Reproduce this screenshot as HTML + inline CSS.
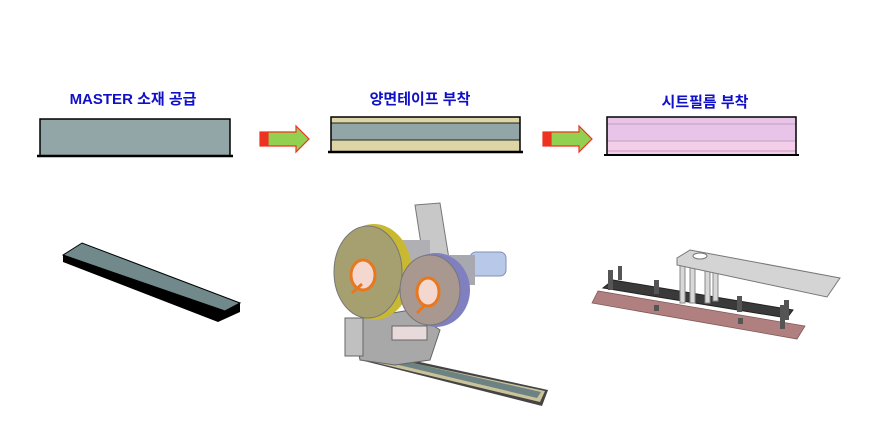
<!DOCTYPE html>
<html><head><meta charset="utf-8">
<style>
html,body{margin:0;padding:0;background:#fff;}
svg{display:block;}
text{font-family:"Liberation Sans","Noto Sans CJK KR",sans-serif;font-weight:bold;fill:#1010c8;}
</style></head><body>
<svg width="879" height="446" viewBox="0 0 879 446" xmlns="http://www.w3.org/2000/svg">
<rect width="879" height="446" fill="#fff"/>
<text x="133" y="104" font-size="15" text-anchor="middle">MASTER 소재 공급</text>
<text x="420" y="104" font-size="15" text-anchor="middle">양면테이프 부착</text>
<text x="705" y="107" font-size="15" text-anchor="middle">시트필름 부착</text>

<rect x="40" y="119" width="190" height="37" fill="#92a6a7" stroke="#000" stroke-width="1.5"/>
<line x1="37" y1="156" x2="233" y2="156" stroke="#000" stroke-width="2.5"/>

<rect x="331" y="117" width="189" height="6" fill="#ddd5a5"/>
<rect x="331" y="123" width="189" height="17" fill="#92a6a7"/>
<rect x="331" y="140" width="189" height="11" fill="#ddd5a5"/>
<line x1="331" y1="123" x2="520" y2="123" stroke="#222" stroke-width="1"/>
<line x1="331" y1="140" x2="520" y2="140" stroke="#222" stroke-width="1"/>
<rect x="331" y="117" width="189" height="35" fill="none" stroke="#000" stroke-width="1.5"/>
<line x1="328" y1="152" x2="523" y2="152" stroke="#000" stroke-width="2.5"/>

<rect x="607" y="117" width="189" height="38" fill="#e8c4e8"/>
<rect x="607" y="141" width="189" height="14" fill="#f4cde8"/>
<line x1="607" y1="124" x2="796" y2="124" stroke="#c0a0c0" stroke-width="1"/>
<line x1="607" y1="141" x2="796" y2="141" stroke="#c0a0c0" stroke-width="1"/>
<line x1="607" y1="151" x2="796" y2="151" stroke="#c0a0c0" stroke-width="1"/>
<rect x="607" y="117" width="189" height="38" fill="none" stroke="#000" stroke-width="1.5"/>
<line x1="604" y1="155" x2="799" y2="155" stroke="#000" stroke-width="2"/>

<g id="arr" stroke="#ee3322" stroke-width="1.2">
<rect x="260" y="132" width="3" height="14" fill="#ee3322"/>
<rect x="264" y="132" width="3" height="14" fill="#ee3322"/>
<polygon points="268,132 296,132 296,126 309,139 296,152 296,146 268,146" fill="#92d050"/>
</g>
<use href="#arr" x="283" y="0"/>

<polygon points="63,255 63,262 218,322 240,312 240,303 225,311" fill="#000"/>
<polygon points="63,255 82,243 240,303 225,311" fill="#71898a" stroke="#000" stroke-width="1"/>

<polygon points="360,360 374,352 548,390 542,406" fill="#444"/>
<polygon points="364,360 375,355 545,391 540,402" fill="#c9c29a"/>
<polygon points="378,360 386,357 541,392 537,398" fill="#6d8282"/>
<polygon points="415,205 440,203 450,265 425,270" fill="#c8c8c8" stroke="#777"/>
<rect x="470" y="252" width="36" height="24" rx="6" fill="#b8c8e8" stroke="#8090b0"/>
<rect x="445" y="255" width="30" height="30" fill="#a8a8b0"/>
<rect x="395" y="240" width="35" height="40" fill="#b0b0b4"/>
<polygon points="352,320 410,310 440,330 430,360 395,365 360,360" fill="#a8a8a8" stroke="#666"/>
<rect x="345" y="318" width="18" height="38" fill="#c0c0c0" stroke="#666"/>
<ellipse cx="374" cy="272" rx="38" ry="48" fill="#c8b832"/>
<ellipse cx="368" cy="272" rx="34" ry="46" fill="#a6a070" stroke="#777"/>
<ellipse cx="363" cy="275" rx="12" ry="15" fill="#f4d8d0" stroke="#e87820" stroke-width="3"/>
<line x1="362" y1="284" x2="352" y2="293" stroke="#e87820" stroke-width="3"/>
<ellipse cx="436" cy="290" rx="34" ry="37" fill="#8080c0"/>
<ellipse cx="430" cy="290" rx="30" ry="35" fill="#a89890" stroke="#777"/>
<ellipse cx="428" cy="292" rx="11" ry="14" fill="#f4d8d0" stroke="#e87820" stroke-width="3"/>
<line x1="425" y1="305" x2="417" y2="313" stroke="#e87820" stroke-width="3"/>
<rect x="392" y="326" width="35" height="14" fill="#e8dada" stroke="#666"/>

<polygon points="598,291 592,303 797,339 805,326" fill="#b08080" stroke="#805858" stroke-width="0.8"/>
<polygon points="603,288 613,280 793,310 787,318" fill="#3a3a3a" stroke="#222"/>
<rect x="680" y="263" width="5" height="40" fill="#d8d8d8" stroke="#888"/>
<rect x="690" y="263" width="5" height="40" fill="#d8d8d8" stroke="#888"/>
<rect x="705" y="263" width="5" height="40" fill="#d8d8d8" stroke="#888"/>
<rect x="713" y="263" width="5" height="38" fill="#d8d8d8" stroke="#888"/>
<polygon points="677,258 690,250 840,278 827,297 677,265" fill="#d4d4d4" stroke="#777"/>
<ellipse cx="700" cy="256" rx="7" ry="3" fill="#fff" stroke="#777"/>
<g fill="#555">
<rect x="608" y="270" width="5" height="20"/><rect x="618" y="266" width="4" height="14"/>
<rect x="654" y="280" width="5" height="14"/><rect x="737" y="296" width="5" height="16"/>
<rect x="780" y="305" width="5" height="24"/><rect x="784" y="300" width="5" height="20"/>
<rect x="654" y="305" width="5" height="6"/><rect x="738" y="318" width="5" height="6"/>
</g>
</svg>
</body></html>
